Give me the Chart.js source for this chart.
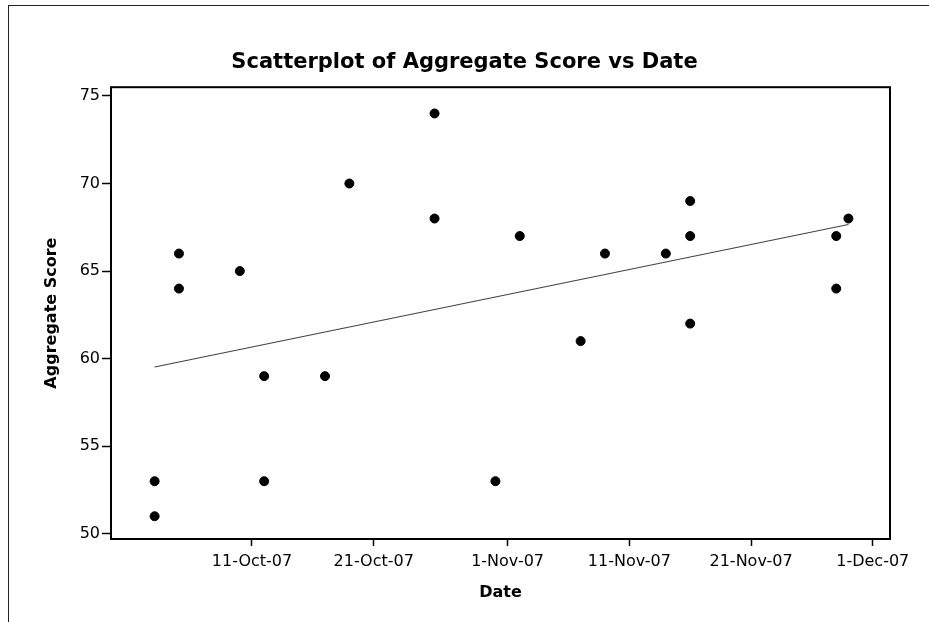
<!DOCTYPE html>
<html>
<head>
<meta charset="utf-8">
<title>Scatterplot of Aggregate Score vs Date</title>
<script src="https://cdn.jsdelivr.net/npm/chart.js@4.4.1/dist/chart.umd.min.js"></script>
<style>
  body { margin: 0; background: #fff; }
  #wrap { position: relative; width: 929px; height: 622px; }
  #frame { position: absolute; left: 8px; top: 5px; right: 0; bottom: 0;
           border-top: 1px solid #222; border-left: 1px solid #222; pointer-events: none; }
</style>
</head>
<body>
<div id="wrap">
  <canvas id="scatterChart" width="929" height="622"></canvas>
  <div id="frame"></div>
</div>
<script>
// data
const dates = [
  '2007-10-03', '2007-10-03', '2007-10-05', '2007-10-05', '2007-10-10',
  '2007-10-12', '2007-10-12', '2007-10-17', '2007-10-19', '2007-10-26',
  '2007-10-26', '2007-10-31', '2007-11-02', '2007-11-07', '2007-11-09',
  '2007-11-14', '2007-11-16', '2007-11-16', '2007-11-16', '2007-11-28',
  '2007-11-28', '2007-11-29'
];
const scores = [
  53, 51, 66, 64, 65,
  59, 53, 59, 70, 74,
  68, 53, 67, 61, 66,
  66, 69, 67, 62, 67,
  64, 68
];
const tickDates = ['2007-10-11', '2007-10-21', '2007-11-01', '2007-11-11', '2007-11-21', '2007-12-01'];
const tickLabels = ['11-Oct-07', '21-Oct-07', '1-Nov-07', '11-Nov-07', '21-Nov-07', '1-Dec-07'];
const yTicks = [50, 55, 60, 65, 70, 75];

const FONT = "'DejaVu Sans', Verdana, sans-serif";
const toMs = s => Date.parse(s + 'T00:00:00Z');

const points = dates.map((d, i) => ({ x: toMs(d), y: scores[i] }));

// least squares fit line, same as the one on the plot
const n = points.length;
const mx = points.reduce((a, p) => a + p.x, 0) / n;
const my = points.reduce((a, p) => a + p.y, 0) / n;
let sxy = 0, sxx = 0;
points.forEach(p => { sxy += (p.x - mx) * (p.y - my); sxx += (p.x - mx) * (p.x - mx); });
const slope = sxy / sxx;
const xFirst = Math.min(...points.map(p => p.x));
const xLast = Math.max(...points.map(p => p.x));
const fitLine = [
  { x: xFirst, y: my + slope * (xFirst - mx) },
  { x: xLast, y: my + slope * (xLast - mx) }
];

// box round the plot area
const plotBox = {
  id: 'plotBox',
  afterDatasetsDraw(chart) {
    const { ctx, chartArea: a } = chart;
    ctx.save();
    ctx.strokeStyle = '#000';
    ctx.lineWidth = 2;
    ctx.strokeRect(a.left, a.top, a.right - a.left, a.bottom - a.top);
    ctx.restore();
  }
};

const config = {
  type: 'scatter',
  data: {
    datasets: [{
      label: 'Aggregate Score',
      data: points,
      backgroundColor: '#000',
      borderColor: '#000',
      pointRadius: 4.5,
      pointHoverRadius: 4.5
    },
    {
      label: 'Fit',
      type: 'line',
      data: fitLine,
      borderColor: '#444',
      borderWidth: 1.2,
      pointRadius: 0,
      fill: false
    }]
  },
  options: {
    responsive: false,
    animation: false,
    layout: { padding: 0 },
    plugins: {
      legend: { display: false },
      tooltip: { enabled: false },
      title: {
        display: true,
        text: 'Scatterplot of Aggregate Score vs Date',
        color: '#000',
        font: { family: FONT, size: 21, weight: 'bold' },
        padding: { top: 50, bottom: 12 }
      }
    },
    scales: {
      x: {
        type: 'linear',
        min: Date.UTC(2007, 8, 29, 10),
        max: Date.UTC(2007, 11, 2, 10),
        afterBuildTicks: s => { s.ticks = tickDates.map(d => ({ value: toMs(d) })); },
        afterFit: s => { s.height = 83; },
        ticks: {
          callback: (v, i) => tickLabels[i],
          color: '#000',
          font: { family: FONT, size: 16 },
          padding: 6,
          maxRotation: 0,
          autoSkip: false
        },
        grid: { drawOnChartArea: false, drawTicks: true, tickLength: 7, tickWidth: 1.5, tickColor: '#000' },
        border: { display: false },
        title: {
          display: true,
          text: 'Date',
          color: '#000',
          font: { family: FONT, size: 16, weight: 'bold' },
          padding: { top: 0, bottom: 20 }
        }
      },
      y: {
        min: 49.7,
        max: 75.5,
        afterBuildTicks: s => { s.ticks = yTicks.map(v => ({ value: v })); },
        afterFit: s => { s.width = 111; },
        ticks: {
          color: '#000',
          font: { family: FONT, size: 16 },
          padding: 2
        },
        grid: { drawOnChartArea: false, drawTicks: true, tickLength: 9, tickWidth: 1.5, tickColor: '#000' },
        border: { display: false },
        title: {
          display: true,
          text: 'Aggregate Score',
          color: '#000',
          font: { family: FONT, size: 16, weight: 'bold' },
          padding: { top: 42, bottom: 0 }
        }
      },
      // empty strip on the right so the plot stops short of the edge
      yRight: {
        position: 'right',
        afterFit: s => { s.width = 39; },
        ticks: { display: false },
        grid: { display: false },
        border: { display: false }
      }
    }
  },
  plugins: [plotBox]
};

const scatterChart = new Chart(document.getElementById('scatterChart'), config);
</script>
</body>
</html>
